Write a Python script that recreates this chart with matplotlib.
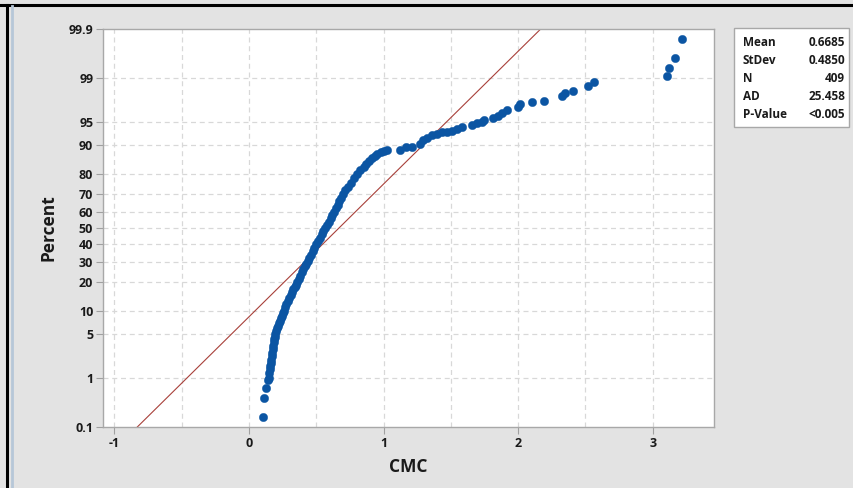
import math
import numpy as np
import matplotlib
matplotlib.use("Agg")
import matplotlib.pyplot as plt
from matplotlib.lines import Line2D
from matplotlib.patches import Rectangle

# ---------------- data ----------------
cmc = [0.106, 0.114, 0.128, 0.143,
       0.147, 0.150, 0.153, 0.157, 0.161, 0.164, 0.168, 0.172, 0.176, 0.180,
       0.184, 0.188, 0.192, 0.196, 0.203, 0.209, 0.216, 0.222, 0.228, 0.234,
       0.242, 0.250, 0.257, 0.268, 0.278, 0.289, 0.300, 0.310, 0.320, 0.330,
       0.339, 0.348, 0.357, 0.369, 0.381, 0.393, 0.404, 0.415, 0.425, 0.435,
       0.445, 0.458, 0.472, 0.486, 0.500, 0.513, 0.526, 0.540, 0.553, 0.567,
       0.580, 0.593, 0.606, 0.619, 0.632, 0.645, 0.658, 0.672, 0.686, 0.700,
       0.716, 0.735, 0.757, 0.780, 0.805, 0.827, 0.853, 0.872, 0.893, 0.916,
       0.935, 0.953, 0.980, 1.005, 1.022,
       1.122, 1.166, 1.209, 1.270, 1.295, 1.320, 1.357, 1.394, 1.432, 1.469,
       1.506, 1.543, 1.580, 1.655, 1.692, 1.729, 1.746, 1.815, 1.852, 1.877,
       1.915, 2.000, 2.013, 2.105, 2.194, 2.328, 2.348, 2.405, 2.521, 2.565,
       3.103, 3.123, 3.165, 3.215]
percent = [0.17, 0.42, 0.66, 0.90,
           1.0, 1.2, 1.4, 1.6, 1.8, 2.0, 2.3, 2.6, 3.0, 3.4,
           3.8, 4.2, 4.6, 5.0, 5.5, 6.0, 6.5, 7.0, 7.5, 8.0,
           8.7, 9.4, 10, 11, 12, 13, 14, 15, 16, 17,
           18, 19, 20, 21.5, 23, 24.5, 26, 27.5, 29, 30.5,
           32, 34, 36, 38, 40, 42, 44, 46, 48, 50,
           52, 54, 56, 58, 60, 62, 64, 66, 68, 70,
           72, 74, 76, 78, 80, 81.5, 83, 84, 85, 86,
           86.8, 87.5, 88.0, 88.4, 88.7,
           88.7, 89.5, 89.65, 90.3, 91.4, 92.0, 92.5, 92.85, 93.15, 93.3,
           93.45, 93.7, 94.1, 94.5, 94.8, 95.05, 95.3, 95.6, 95.9, 96.25,
           96.65, 97.0, 97.25, 97.45, 97.6, 97.95, 98.2, 98.35, 98.65, 98.85,
           99.09, 99.36, 99.59, 99.83]

fit_mean = 0.6685
fit_sd = 0.4850
y_ticks = [0.1, 1, 5, 10, 20, 30, 40, 50, 60, 70, 80, 90, 95, 99, 99.9]
y_tick_labels = ["0.1", "1", "5", "10", "20", "30", "40", "50", "60", "70",
                 "80", "90", "95", "99", "99.9"]
x_ticks = [-1, 0, 1, 2, 3]
stat_names = ["Mean", "StDev", "N", "AD", "P-Value"]
stat_values = ["0.6685", "0.4850", "409", "25.458", "<0.005"]


def norm_ppf(p):
    lo, hi = -10.0, 10.0
    for _ in range(80):
        mid = 0.5 * (lo + hi)
        if 0.5 * (1 + math.erf(mid / math.sqrt(2))) < p:
            lo = mid
        else:
            hi = mid
    return 0.5 * (lo + hi)


FONT = ["Open Sans", "DejaVu Sans"]
plt.rcParams["font.family"] = FONT
TXT = "#1a1a1a"

W, H = 854, 488
fig = plt.figure(figsize=(W / 100, H / 100), dpi=100)
fig.patch.set_facecolor("#e3e3e3")

L, R, T, B = 103, 714, 29, 427
ax = fig.add_axes([L / W, 1 - B / H, (R - L) / W, (B - T) / H])
ax.set_facecolor("white")

zmin, zmax = norm_ppf(0.001), norm_ppf(0.999)
ax.set_ylim(zmin, zmax)
ax.set_xlim(-1.085, 3.455)

# grid
grid_kw = dict(color="#d8d8d8", lw=0.9, ls=(0, (4, 3)), zorder=0)
for gx in np.arange(-1, 3.01, 0.5):
    ax.axvline(gx, **grid_kw)
for p in y_ticks[1:-1]:
    ax.axhline(norm_ppf(p / 100), **grid_kw)

# fitted line
xl = np.array([-1.085, 3.455])
ax.plot(xl, (xl - fit_mean) / fit_sd, color="#a8403a", lw=0.8, zorder=2)

# points
zpts = [norm_ppf(p / 100) for p in percent]
ax.plot(cmc, zpts, ls="none", marker="o", ms=6.0, mfc="#0b55a3",
        mec="#0b55a3", mew=0.3, zorder=3)

ax.set_yticks([norm_ppf(p / 100) for p in y_ticks])
ax.set_yticklabels(y_tick_labels)
ax.set_xticks(x_ticks)
ax.set_xticklabels(["-1", "0", "1", "2", "3"])
ax.tick_params(axis="both", colors="#a0a0a0", length=5, width=0.8,
               labelcolor=TXT, labelsize=9, pad=2)
for lab in ax.get_xticklabels() + ax.get_yticklabels():
    lab.set_fontweight("bold")
for s in ax.spines.values():
    s.set_color("#a8a8a8")
    s.set_linewidth(1.0)

ax.set_xlabel("CMC", fontsize=12.5, fontweight="bold", color=TXT,
              labelpad=6)
ax.set_ylabel("Percent", fontsize=12.5, fontweight="bold",
              color=TXT, labelpad=8)

# statistics box
bx0, by0, bx1, by1 = 734, 28, 849, 127
fig.patches.append(Rectangle((bx0 / W, 1 - by1 / H), (bx1 - bx0) / W,
                             (by1 - by0) / H, transform=fig.transFigure,
                             facecolor="white", edgecolor="#a8a8a8", lw=1.0))
for i, (n, v) in enumerate(zip(stat_names, stat_values)):
    yy = 1 - (42 + 18 * i) / H
    fig.text(743 / W, yy, n, fontsize=8.5, fontweight="bold",
             color=TXT, va="center", ha="left")
    fig.text(845 / W, yy, v, fontsize=8.5, fontweight="bold",
             color=TXT, va="center", ha="right")

# screenshot frame
fig.lines.append(Line2D([0, 1], [1 - 5 / H, 1 - 5 / H], transform=fig.transFigure,
                        color="black", lw=2.2))
fig.lines.append(Line2D([7 / W, 7 / W], [0, 1 - 5 / H], transform=fig.transFigure,
                        color="black", lw=2.2))
fig.lines.append(Line2D([12 / W, 12 / W], [0, 1 - 6 / H], transform=fig.transFigure,
                        color="#b7c7d8", lw=2.0))

fig.savefig("out.png", dpi=100, facecolor=fig.get_facecolor())
